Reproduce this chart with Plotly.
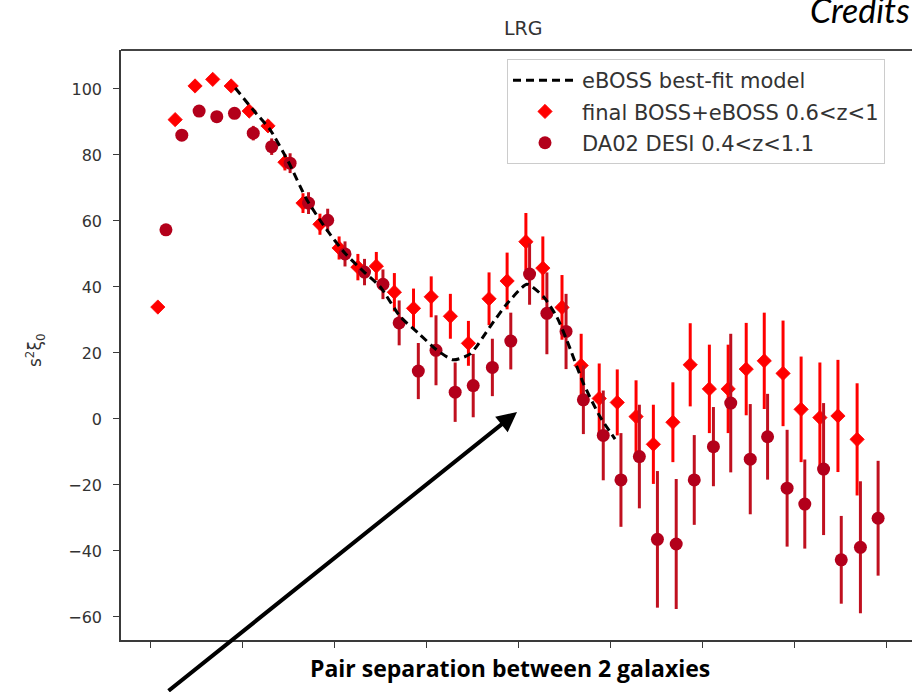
import plotly.graph_objects as go

# ---------------- data ----------------
boss_s = [2.1, 6.8, 12.2, 17.0, 22.0, 26.9, 32.0, 36.6, 41.5, 46.1,
          51.3, 56.4, 61.4, 66.3, 71.5, 76.3, 81.5, 86.4, 92.0, 96.9,
          102.0, 106.6, 111.8, 117.0, 121.9, 126.8, 131.9, 136.6, 141.9, 146.6,
          151.8, 156.9, 161.8, 166.7, 171.8, 176.7, 181.8, 186.7, 191.9]
boss_v = [33.9, 90.7, 100.9, 102.9, 100.9, 93.3, 88.8, 77.8, 65.4, 59.0,
          51.8, 46.0, 46.3, 38.4, 33.5, 37.0, 31.1, 22.9, 36.4, 41.8,
          53.7, 45.7, 33.8, 16.2, 6.2, 5.0, 0.7, -7.7, -1.0, 16.4,
          9.1, 9.1, 15.1, 17.6, 13.8, 2.9, 0.4, 0.9, -6.2]
boss_err = [0.5, 0.8, 1.0, 1.0, 1.2, 1.5, 1.8, 2.5, 3.0, 3.2,
            3.5, 4.0, 4.3, 5.8, 6.0, 6.2, 6.8, 6.8, 8.0, 8.6,
            8.7, 9.6, 9.8, 9.6, 10.6, 10.0, 11.0, 12.0, 12.1, 12.6,
            13.4, 13.4, 14.0, 14.6, 16.0, 16.0, 16.7, 17.0, 17.0]

desi_s = [4.3, 8.6, 13.3, 18.1, 22.9, 28.0, 33.0, 38.0, 43.0, 48.2,
          52.9, 58.2, 63.2, 67.6, 72.8, 77.6, 82.8, 87.7, 92.9, 97.9,
          103.0, 107.7, 112.9, 117.6, 123.0, 127.8, 132.8, 137.7, 142.8, 147.7,
          152.9, 157.6, 162.9, 167.6, 172.9, 177.7, 182.8, 187.6, 192.8, 197.6]
desi_v = [57.3, 86.0, 93.3, 91.6, 92.6, 86.6, 82.5, 77.5, 65.4, 60.2,
          50.0, 44.5, 40.8, 29.1, 14.5, 20.8, 8.1, 10.1, 15.6, 23.6,
          43.9, 32.0, 26.5, 5.8, -5.0, -18.5, -11.4, -36.5, -37.9, -18.5,
          -8.4, 4.8, -12.2, -5.4, -21.0, -25.8, -15.2, -42.7, -38.9, -30.1]
desi_err = [1.0, 1.2, 1.3, 1.5, 1.7, 2.2, 2.5, 3.0, 3.3, 3.5,
            3.8, 4.0, 4.5, 6.8, 8.5, 10.6, 9.0, 9.6, 8.7, 8.6,
            9.3, 12.4, 11.4, 10.4, 13.6, 14.2, 15.7, 20.7, 19.7, 13.6,
            12.0, 21.0, 16.7, 13.0, 17.7, 13.5, 20.0, 13.3, 20.0, 17.4]

model_s = [23.1, 28.0, 32.6, 37.5, 42.5, 47.5, 52.9, 58.4, 62.4, 67.9,
           72.8, 77.8, 82.3, 86.9, 92.3, 96.8, 102.3, 106.8, 110.4, 113.1,
           117.6, 122.1, 126.2]
model_v = [100.3, 93.6, 87.6, 78.0, 66.5, 58.0, 50.2, 44.2, 40.1, 31.0,
           26.0, 20.9, 17.9, 19.7, 28.0, 34.8, 40.8, 37.0, 30.9, 23.9,
           10.8, 0.7, -6.1]

x_ticks = [0, 25, 50, 75, 100, 125, 150, 175, 200]
y_ticks = [-60, -40, -20, 0, 20, 40, 60, 80, 100]

title_text = "LRG"
ylabel_text = "s<sup>2</sup>ξ<sub>0</sub>"
xlabel_text = "<b>Pair separation between 2 galaxies</b>"
credits_text = "<i>Credits</i>"
names = ["eBOSS best-fit model", "final BOSS+eBOSS 0.6<z<1", "DA02 DESI 0.4<z<1.1"]

RED = "#ff0000"
DARK = "#b3001b"
DARK_BAR = "#c0101f"
AX = "#3a3a3a"

fig = go.Figure()

fig.add_trace(go.Scatter(
    x=boss_s, y=boss_v, mode="markers", name=names[1], legendrank=2,
    legendgroup="b",
    marker=dict(symbol="diamond", size=11, color=RED,
                line=dict(color=RED, width=0.8)),
    error_y=dict(type="data", array=boss_err, color=RED, thickness=3, width=0),
))
fig.add_trace(go.Scatter(
    x=desi_s, y=desi_v, mode="markers", name=names[2], legendrank=3,
    legendgroup="c",
    marker=dict(symbol="circle", size=13, color=DARK,
                line=dict(color=DARK, width=0)),
    error_y=dict(type="data", array=desi_err, color=DARK_BAR, thickness=3, width=0),
))
fig.add_trace(go.Scatter(
    x=model_s, y=model_v, mode="lines", name=names[0], legendrank=1,
    legendgroup="a",
    line=dict(color="black", width=3, dash="8px,5px", shape="spline", smoothing=0.6),
))

L, T, B = 121, 50, 52
W, H = 912, 692
pw = W - L
ph = H - T - B

def px(xp):
    return (xp - L) / pw

def py(yp):
    return (H - B - yp) / ph

fig.update_layout(
    width=W, height=H,
    margin=dict(l=L, r=0, t=T, b=B, pad=0),
    paper_bgcolor="white", plot_bgcolor="white",
    showlegend=True,
    legend=dict(
        x=px(507), y=py(59), xanchor="left", yanchor="top",
        bgcolor="white", bordercolor="#cccccc", borderwidth=1,
        font=dict(family="DejaVu Sans", size=21, color="#333333"),
        itemwidth=64, tracegroupgap=1,
    ),
    xaxis=dict(
        range=[-7.9, 206.8], tickmode="array", tickvals=x_ticks,
        showticklabels=False, ticks="outside", ticklen=6, tickwidth=1.2,
        tickcolor=AX, showgrid=False, zeroline=False,
        showline=True, linecolor=AX, linewidth=1.5,
    ),
    yaxis=dict(
        range=[-67, 111.8], tickmode="array", tickvals=y_ticks,
        ticks="outside", ticklen=6, tickwidth=1.2, tickcolor=AX,
        tickfont=dict(family="DejaVu Sans", size=16, color="#333333"),
        ticklabelstandoff=8,
        showgrid=False, zeroline=False,
        showline=True, linecolor=AX, linewidth=1.5,
    ),
    shapes=[dict(type="line", xref="paper", yref="paper", x0=0, x1=1, y0=1, y1=1,
                 line=dict(color="#444444", width=2))],
)

fig.add_annotation(text=title_text, xref="paper", yref="paper",
                   x=px(523), y=py(28), xanchor="center", yanchor="middle",
                   showarrow=False,
                   font=dict(family="DejaVu Sans", size=19, color="#333333"))
fig.add_annotation(text=ylabel_text, xref="paper", yref="paper",
                   x=px(35), y=py(350), xanchor="center", yanchor="middle",
                   showarrow=False, textangle=-90,
                   font=dict(family="DejaVu Sans", size=17, color="#333333"))
fig.add_annotation(text=xlabel_text, xref="paper", yref="paper",
                   x=px(510), y=py(668), xanchor="center", yanchor="middle",
                   showarrow=False,
                   font=dict(family="Open Sans", size=23, color="black"))
fig.add_annotation(text=credits_text, xref="paper", yref="paper",
                   x=px(808), y=py(9), xanchor="left", yanchor="middle",
                   showarrow=False,
                   font=dict(family="Lato", size=34, color="black"))
# arrow pointing at the BAO peak
fig.add_annotation(text="", x=99.6, y=2.1, xref="x", yref="y",
                   ax=-350, ay=280, axref="pixel", ayref="pixel",
                   showarrow=True, arrowhead=2, arrowsize=1, arrowwidth=4,
                   arrowcolor="black", standoff=0)

fig.write_html("out.html")
